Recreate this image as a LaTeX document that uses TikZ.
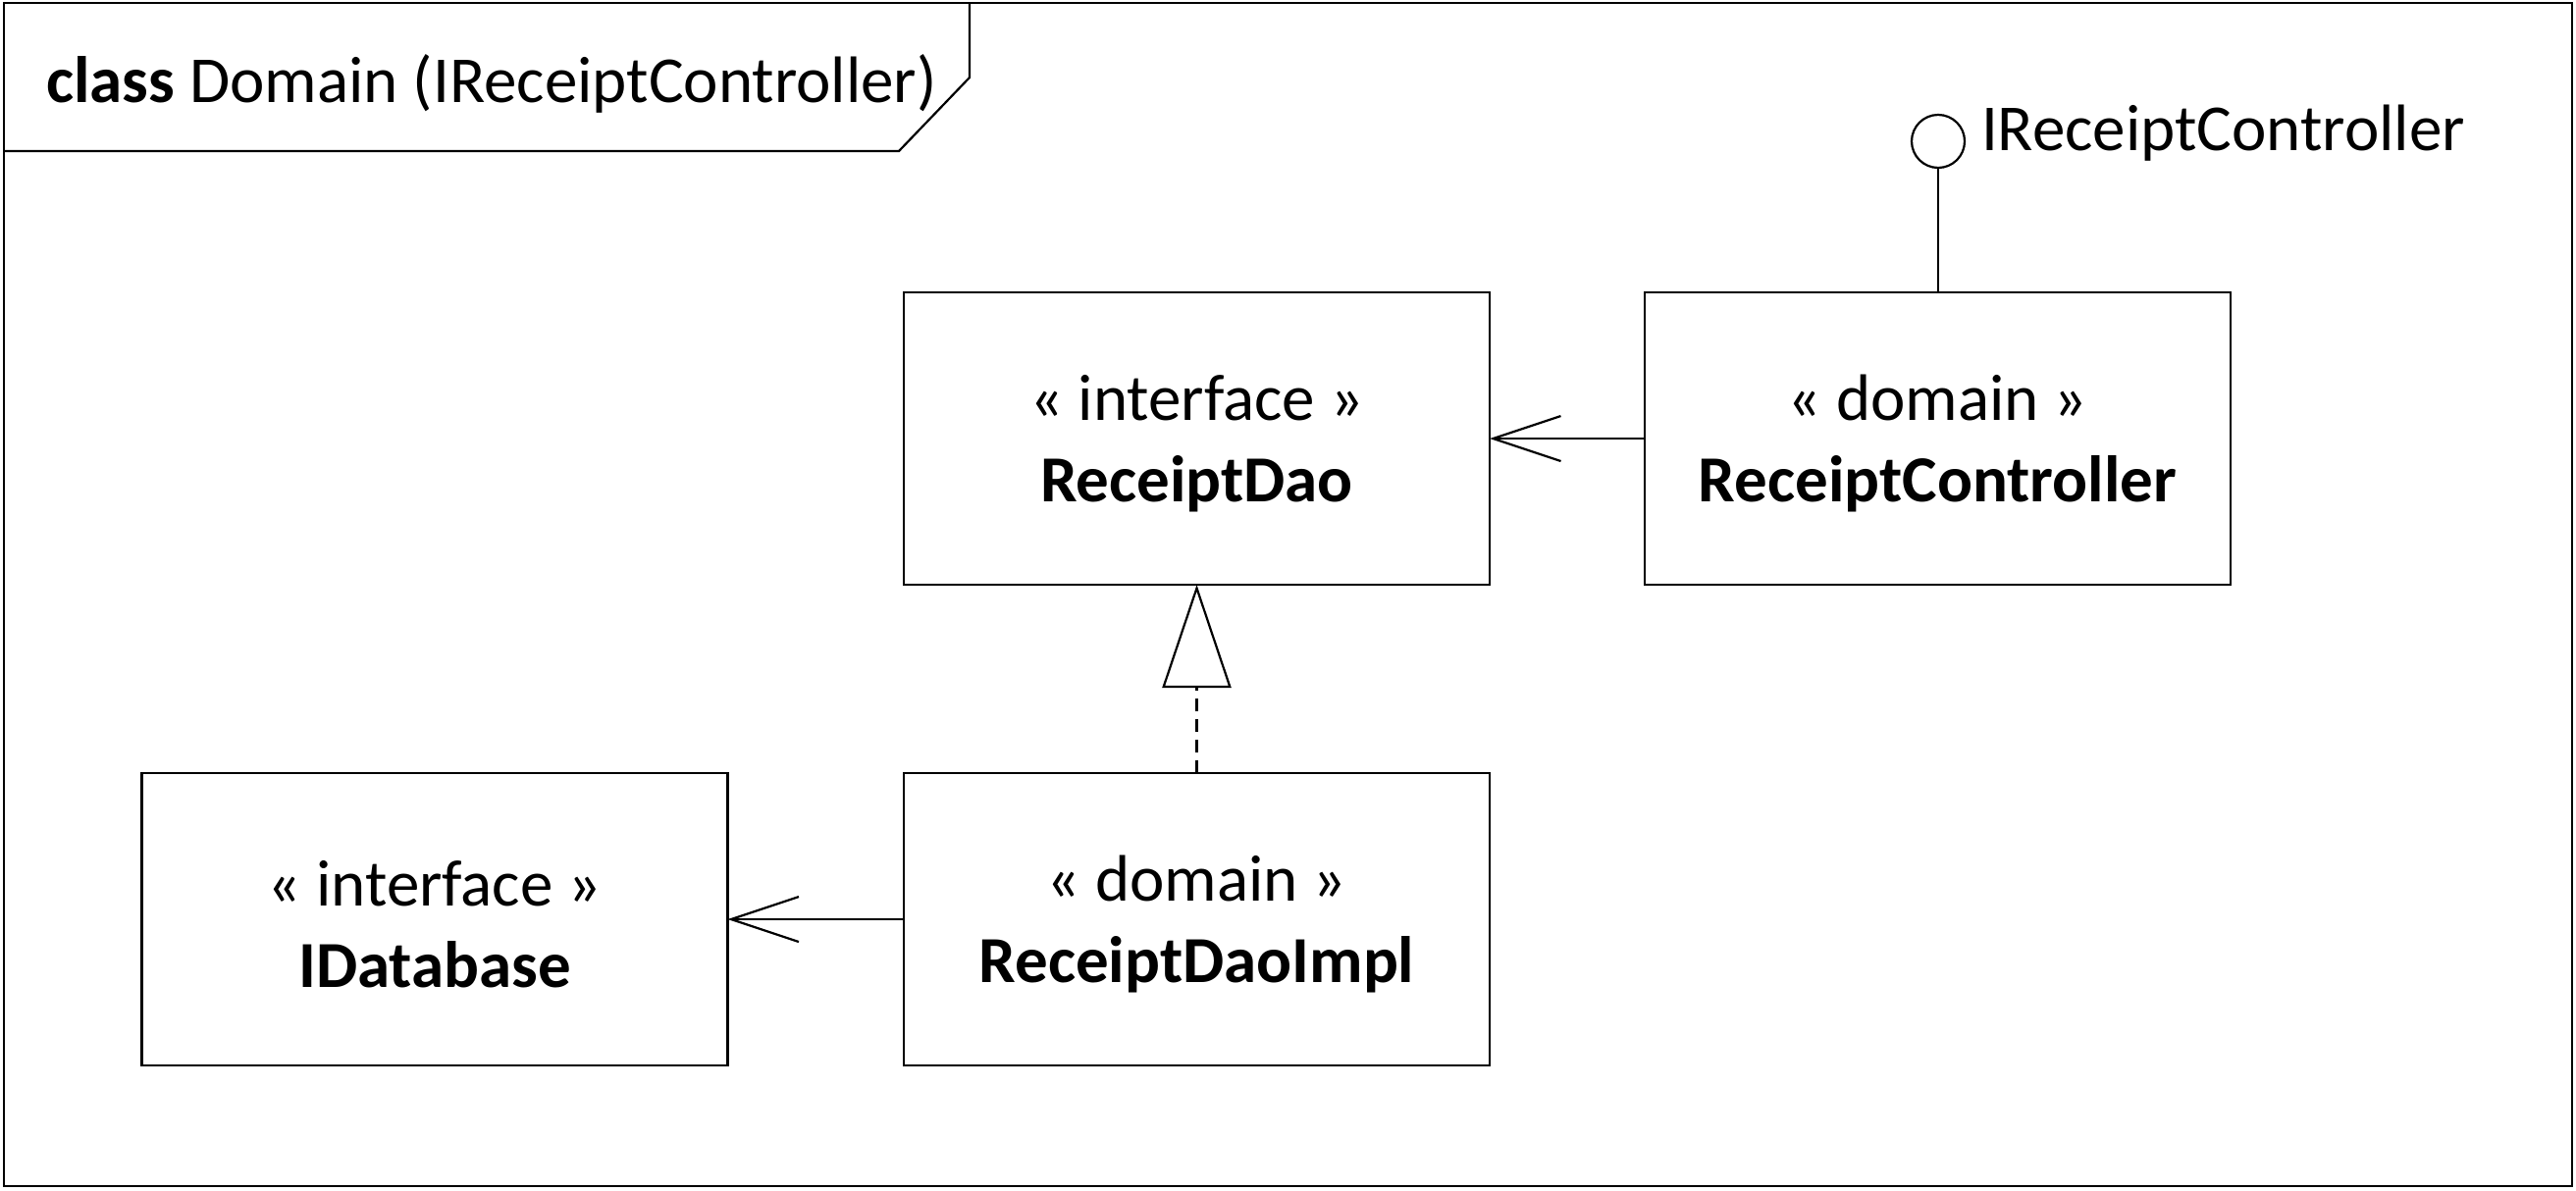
\documentclass[tikz,border=0pt]{standalone}
\usepackage{fontspec}
\setmainfont{Carlito}
\usetikzlibrary{arrows.meta}
\begin{document}
\begin{tikzpicture}[x=1pt,y=-1pt,
  every node/.style={inner sep=0pt,outer sep=0pt},
  umlbox/.style={draw,line width=2.2pt,minimum width=597pt,minimum height=298pt},
  umltext/.style={align=center,font=\fontsize{67}{83}\selectfont,yshift=-5pt},
  lbl/.style={font=\fontsize{67}{80}\selectfont},
  assoc/.style={line width=2.2pt,-{Straight Barb[length=69pt,width=46pt,line width=2.2pt]}},
  realize/.style={line width=2.2pt,dash pattern=on 13pt off 8pt,-{Triangle[open,length=105pt,width=70pt,line width=2.2pt]}},
  plain/.style={line width=2.2pt}]
\useasboundingbox (0,0) rectangle (2625,1213);
% frame
\draw[plain] (4,3) rectangle (2621,1209);
\draw[plain] (4,154) -- (916,154) -- (988,79) -- (988,3);
\node[lbl,anchor=base west] (title) at (47,104) {\textbf{class} Domain (IReceiptController)};
% boxes
\node[umlbox] (dao) at (1219.5,447) {};
\node[umltext] (daotxt) at (dao.center) {« interface »\\\textbf{ReceiptDao}};
\node[umlbox] (ctrl) at (1974.5,447) {};
\node[umltext] (ctrltxt) at (ctrl.center) {« domain »\\\textbf{ReceiptController}};
\node[umlbox] (idb) at (443,937) {};
\node[umltext] (idbtxt) at (idb.center) {« interface »\\\textbf{IDatabase}};
\node[umlbox] (impl) at (1219.5,937) {};
\node[umltext] (impltxt) at (impl.center) {« domain »\\\textbf{ReceiptDaoImpl}};
% lollipop
\node[draw,circle,line width=2.2pt,minimum size=54pt] (lol) at (1975,144) {};
\node[lbl,anchor=base west] (lollbl) at (2019,153) {IReceiptController};
\draw[plain] (lol.south) -- (lol |- ctrl.north);
% connectors
\draw[assoc] (ctrl.west) -- (dao.east);
\draw[assoc] (impl.west) -- (idb.east);
\draw[realize] (impl.north) -- (dao.south);
\end{tikzpicture}
\end{document}
